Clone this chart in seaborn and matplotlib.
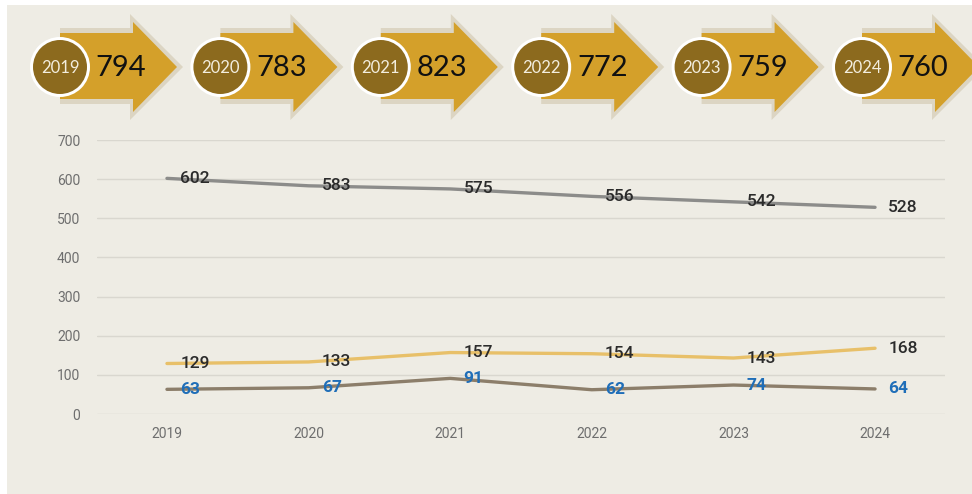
import pandas as pd
import matplotlib.pyplot as plt
import seaborn as sns
from matplotlib.patches import Polygon, Circle, Rectangle

# dados
anos = [2019, 2020, 2021, 2022, 2023, 2024]
totais = [794, 783, 823, 772, 759, 760]
serie_cinza = [602, 583, 575, 556, 542, 528]
serie_amarela = [129, 133, 157, 154, 143, 168]
serie_marrom = [63, 67, 91, 62, 74, 64]

fundo = "#EEECE4"
sns.set_theme(style="white")
plt.rcParams['font.family'] = ['Roboto', 'DejaVu Sans']

fig = plt.figure(figsize=(9.72, 4.94), dpi=100, facecolor="white")

# camada de fundo em coordenadas de pixel
bg = fig.add_axes([0, 0, 1, 1], zorder=0)
bg.set_xlim(0, 972)
bg.set_ylim(494, 0)
bg.axis("off")
bg.add_patch(Rectangle((7, 5), 972, 494, color=fundo, lw=0))

# setas do topo
passo = 160.4
for i, (ano, tot) in enumerate(zip(anos, totais)):
    cx = 60 + i * passo
    cy = 67
    sombra = [(cx, 28), (cx + 70, 28), (cx + 70, 14), (cx + 123, 67),
              (cx + 70, 120), (cx + 70, 104), (cx, 104)]
    bg.add_patch(Polygon(sombra, closed=True, color="#DCD5C3", lw=0))
    seta = [(cx, 33), (cx + 73, 33), (cx + 73, 22), (cx + 117, 67),
            (cx + 73, 112), (cx + 73, 99), (cx, 99)]
    bg.add_patch(Polygon(seta, closed=True, color="#D4A02A", lw=0))
    bg.add_patch(Circle((cx, cy), 30, color="white", lw=0))
    bg.add_patch(Circle((cx, cy), 27, color="#8C6A1E", lw=0))
    bg.text(cx, cy + 1, str(ano), ha="center", va="center", fontsize=12,
            color="#F3EEDF", family=["Lato", "DejaVu Sans"])
    bg.text(cx + 61, cy + 1, str(tot), ha="center", va="center", fontsize=21,
            color="#111111", family=["Lato", "DejaVu Sans"])

# grafico de linhas
ax = fig.add_axes([97 / 972, 80 / 494, 848 / 972, 274 / 494], zorder=1)
ax.patch.set_alpha(0)

df = pd.DataFrame({
    "ano": anos * 3,
    "valor": serie_cinza + serie_amarela + serie_marrom,
    "serie": ["cinza"] * 6 + ["amarela"] * 6 + ["marrom"] * 6,
})
cores = {"cinza": "#8C8C8A", "amarela": "#E8C069", "marrom": "#8C7E6A"}
sns.lineplot(data=df, x="ano", y="valor", hue="serie", palette=cores,
             linewidth=2.4, legend=False, ax=ax)

for vals, cor, peso in [(serie_cinza, "#2B2B2B", "medium"),
                        (serie_amarela, "#2B2B2B", "medium"),
                        (serie_marrom, "#1F6EB8", "bold")]:
    for a, v in zip(anos, vals):
        ax.annotate(str(v), (a, v), xytext=(9.5, 0), textcoords="offset points",
                    ha="left", va="center", fontsize=12.5, color=cor,
                    fontweight=peso)

ax.set_xlim(2018.506, 2024.494)
ax.set_ylim(0, 700)
ax.set_yticks(range(0, 701, 100))
ax.set_xticks(anos)
ax.set_xticklabels([str(a) for a in anos])
ax.grid(axis="y", color="#D9D7CF", linewidth=1)
ax.set_axisbelow(True)
for s in ax.spines.values():
    s.set_visible(False)
ax.tick_params(axis="both", length=0, labelsize=10, labelcolor="#6E6E6E")
ax.tick_params(axis="y", pad=12)
ax.tick_params(axis="x", pad=9)
ax.set_xlabel("")
ax.set_ylabel("")

fig.savefig("out.png", dpi=100, facecolor=fig.get_facecolor())
